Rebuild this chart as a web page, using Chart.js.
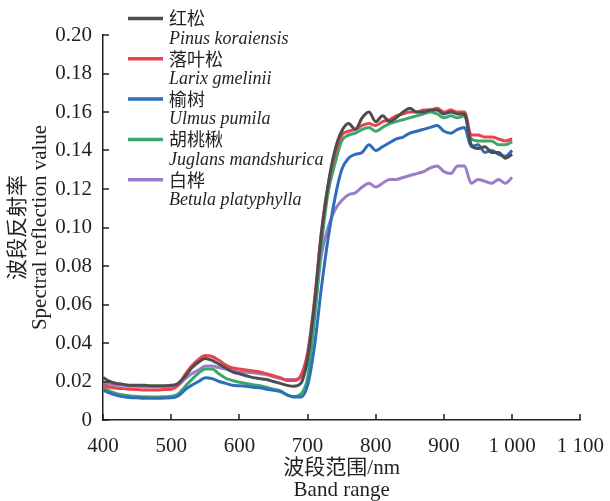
<!DOCTYPE html>
<html>
<head>
<meta charset="utf-8">
<script src="https://cdn.jsdelivr.net/npm/chart.js@4"></script>
<style>
  html, body { margin: 0; padding: 0; background: #fff; }
  #wrap { width: 610px; height: 501px; }
</style>
</head>
<body>
<div id="wrap"><canvas id="spectraChart" width="610" height="501"></canvas></div>
<script>
// band centres, nm
const wavelengths = [
  400, 410, 420, 430, 440, 450, 460, 470, 480, 490,
  500, 510, 520, 530, 540, 550, 560, 570, 580, 590,
  600, 610, 620, 630, 640, 650, 660, 670, 680, 690,
  700, 710, 720, 730, 740, 750, 760, 770, 780, 790,
  800, 810, 820, 830, 840, 850, 860, 870, 880, 890,
  900, 910, 920, 930, 940, 950, 960, 970, 980, 990,
  1000
];

const speciesCn = ['红松', '落叶松', '榆树', '胡桃楸', '白桦'];
const speciesLatin = ['Pinus koraiensis', 'Larix gmelinii', 'Ulmus pumila', 'Juglans mandshurica', 'Betula platyphylla'];
const speciesColors = ['#4d4d50', '#e8434e', '#2f6dbb', '#3aa86a', '#9b7dc6'];

const pinusKoraiensis = [
  0.022, 0.020, 0.019, 0.0185, 0.018, 0.018, 0.018, 0.0178, 0.0178, 0.0178,
  0.018, 0.019, 0.0225, 0.027, 0.030, 0.032, 0.031, 0.029, 0.027, 0.025,
  0.024, 0.023, 0.022, 0.0215, 0.021, 0.020, 0.019, 0.018, 0.0175, 0.019,
  0.032, 0.060, 0.096, 0.122, 0.140, 0.150, 0.154, 0.151, 0.157, 0.160,
  0.155, 0.158, 0.155, 0.157, 0.160, 0.162, 0.160, 0.160, 0.161, 0.161,
  0.159, 0.160, 0.159, 0.159, 0.143, 0.141, 0.142, 0.139, 0.139, 0.136,
  0.138
];
const larixGmelinii = [
  0.018, 0.017, 0.0165, 0.0163, 0.016, 0.0158, 0.0156, 0.0156, 0.0156, 0.0158,
  0.016, 0.018, 0.0234, 0.028, 0.0315, 0.0335, 0.033, 0.031, 0.0286, 0.027,
  0.0265, 0.026, 0.0255, 0.025, 0.024, 0.023, 0.022, 0.0205, 0.0205, 0.023,
  0.035, 0.062, 0.097, 0.122, 0.138, 0.148, 0.150, 0.151, 0.153, 0.154,
  0.153, 0.155, 0.156, 0.158, 0.159, 0.160, 0.160, 0.161, 0.161, 0.162,
  0.160, 0.161, 0.160, 0.160, 0.148, 0.148, 0.147, 0.147, 0.146, 0.145,
  0.146
];
const ulmusPumila = [
  0.0156, 0.014, 0.0128, 0.0121, 0.0117, 0.0115, 0.0113, 0.0113, 0.0113, 0.0114,
  0.0115, 0.0125, 0.0156, 0.018, 0.020, 0.022, 0.0215, 0.020, 0.019, 0.018,
  0.0178, 0.0175, 0.017, 0.0168, 0.016, 0.0155, 0.0148, 0.013, 0.012, 0.012,
  0.018, 0.038, 0.068, 0.094, 0.115, 0.130, 0.136, 0.138, 0.139, 0.143,
  0.140, 0.142, 0.144, 0.146, 0.147, 0.149, 0.150, 0.151, 0.152, 0.153,
  0.150, 0.149, 0.151, 0.152, 0.142, 0.143, 0.139, 0.140, 0.138, 0.137,
  0.140
];
const juglansMandshurica = [
  0.017, 0.015, 0.0137, 0.013, 0.0125, 0.0122, 0.0121, 0.012, 0.012, 0.0121,
  0.0123, 0.0135, 0.0173, 0.021, 0.0243, 0.0265, 0.0265, 0.024, 0.0217, 0.0205,
  0.0196, 0.019, 0.0183, 0.0178, 0.017, 0.016, 0.0151, 0.013, 0.0121, 0.0135,
  0.022, 0.052, 0.090, 0.118, 0.133, 0.145, 0.148, 0.149, 0.151, 0.152,
  0.150, 0.152, 0.154, 0.155, 0.156, 0.157, 0.158, 0.159, 0.160, 0.159,
  0.157, 0.158, 0.157, 0.158, 0.146, 0.145, 0.145, 0.145, 0.143, 0.143,
  0.1445
];
const betulaPlatyphylla = [
  0.019, 0.0185, 0.018, 0.018, 0.0175, 0.0175, 0.0173, 0.0173, 0.0173, 0.0173,
  0.0175, 0.018, 0.0213, 0.024, 0.026, 0.028, 0.028, 0.0272, 0.0265, 0.0255,
  0.025, 0.0248, 0.0245, 0.024, 0.0235, 0.0225, 0.0215, 0.021, 0.021, 0.022,
  0.030, 0.055, 0.085, 0.100, 0.109, 0.114, 0.117, 0.118, 0.121, 0.123,
  0.121, 0.123, 0.125, 0.125, 0.126, 0.127, 0.128, 0.129, 0.131, 0.132,
  0.129, 0.128, 0.132, 0.132, 0.123, 0.125, 0.124, 0.123, 0.125, 0.123,
  0.126
];

const seriesValues = [pinusKoraiensis, larixGmelinii, ulmusPumila, juglansMandshurica, betulaPlatyphylla];

const xTicks = [400, 500, 600, 700, 800, 900, 1000, 1100];
const yTicks = [0, 0.02, 0.04, 0.06, 0.08, 0.10, 0.12, 0.14, 0.16, 0.18, 0.20];

const SERIF = "'Liberation Serif', 'Times New Roman', 'Noto Sans CJK SC', serif";
const INK = '#231f20';

// short tick marks pointing into the plot
const innerTicks = {
  id: 'innerTicks',
  afterDraw(chart) {
    const { ctx, chartArea, scales } = chart;
    ctx.save();
    ctx.strokeStyle = INK;
    ctx.lineWidth = 1.5;
    ctx.beginPath();
    xTicks.forEach(v => {
      const px = Math.round(scales.x.getPixelForValue(v));
      ctx.moveTo(px, chartArea.bottom);
      ctx.lineTo(px, chartArea.bottom - 6);
    });
    yTicks.forEach(v => {
      const py = Math.round(scales.y.getPixelForValue(v));
      ctx.moveTo(chartArea.left, py);
      ctx.lineTo(chartArea.left + 6, py);
    });
    ctx.stroke();
    ctx.restore();
  }
};

// two-line legend: Chinese name, then Latin name in italics
const speciesLegend = {
  id: 'speciesLegend',
  afterDraw(chart) {
    const { ctx } = chart;
    ctx.save();
    ctx.textBaseline = 'middle';
    ctx.textAlign = 'left';
    chart.data.datasets.forEach((ds, i) => {
      const y = 18.5 + i * 40.3;
      ctx.strokeStyle = ds.borderColor;
      ctx.lineWidth = 3.5;
      ctx.beginPath();
      ctx.moveTo(128, y);
      ctx.lineTo(163, y);
      ctx.stroke();
      ctx.fillStyle = INK;
      ctx.font = "18px 'Noto Sans CJK SC', sans-serif";
      ctx.fillText(speciesCn[i], 169, y);
      ctx.font = "italic 18px 'Liberation Serif', serif";
      ctx.fillText(speciesLatin[i], 169, y + 20.5);
    });
    ctx.restore();
  }
};

new Chart(document.getElementById('spectraChart'), {
  type: 'line',
  data: {
    datasets: seriesValues.map((vals, i) => ({
      label: speciesCn[i],
      data: wavelengths.map((w, k) => ({ x: w, y: vals[k] })),
      borderColor: speciesColors[i],
      borderWidth: 3,
      pointRadius: 0,
      cubicInterpolationMode: 'monotone',
      fill: false
    }))
  },
  options: {
    responsive: false,
    animation: false,
    devicePixelRatio: 1,
    layout: { padding: { top: 35, right: 29, left: 0, bottom: 0 } },
    plugins: { legend: { display: false }, tooltip: { enabled: false } },
    scales: {
      x: {
        type: 'linear',
        min: 400,
        max: 1100,
        afterBuildTicks: axis => { axis.ticks = xTicks.map(v => ({ value: v })); },
        afterFit: axis => { axis.height = 81; },
        grid: { display: false },
        border: { display: true, color: INK, width: 1.5 },
        ticks: {
          color: INK,
          padding: 6,
          maxRotation: 0,
          font: { family: SERIF, size: 21 },
          callback: v => String(v).replace(/\B(?=(\d{3})+(?!\d))/g, ' ')
        },
        title: {
          display: true,
          text: ['波段范围/nm', 'Band range'],
          color: INK,
          padding: { top: 0, bottom: 0 },
          font: { family: SERIF, size: 21, lineHeight: 22 / 21 }
        }
      },
      y: {
        min: 0,
        max: 0.2,
        afterBuildTicks: axis => { axis.ticks = yTicks.map(v => ({ value: v })); },
        afterFit: axis => { axis.width = 103; },
        grid: { display: false },
        border: { display: true, color: INK, width: 1.5 },
        ticks: {
          color: INK,
          padding: 3,
          font: { family: SERIF, size: 21 },
          callback: v => (v === 0 ? '0' : v.toFixed(2))
        },
        title: {
          display: true,
          text: ['波段反射率', 'Spectral reflection value'],
          color: INK,
          padding: { top: 7, bottom: 0 },
          font: { family: SERIF, size: 21, lineHeight: 22 / 21 }
        }
      }
    }
  },
  plugins: [innerTicks, speciesLegend]
});
</script>
</body>
</html>
